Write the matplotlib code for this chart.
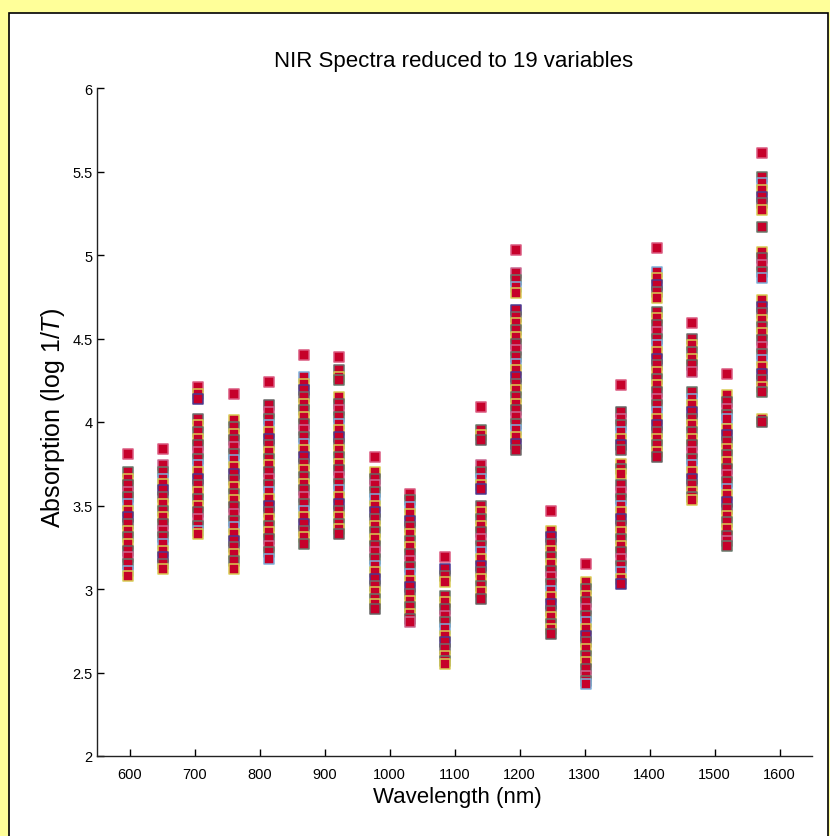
import matplotlib
matplotlib.use("Agg")
import matplotlib.pyplot as plt
from matplotlib.patches import Rectangle

plt.rcParams['font.family'] = ['Liberation Sans', 'DejaVu Sans']
plt.rcParams['mathtext.fontset'] = 'custom'
plt.rcParams['mathtext.rm'] = 'Liberation Sans'
plt.rcParams['mathtext.it'] = 'Liberation Sans:italic'

# wavelengths of the 19 variables (nm)
wavelengths = [598, 652, 706, 760, 814, 869, 923, 977, 1031, 1085,
               1140, 1194, 1248, 1302, 1356, 1411, 1465, 1519, 1573]

# absorption values seen at each wavelength (top to bottom)
a598 = [3.81, 3.70, 3.66, 3.62, 3.58, 3.55, 3.51, 3.47, 3.43, 3.39, 3.35, 3.31,
        3.27, 3.23, 3.19, 3.15, 3.11, 3.08]
a652 = [3.84, 3.74, 3.70, 3.66, 3.63, 3.59, 3.55, 3.51, 3.47, 3.43, 3.39, 3.35,
        3.31, 3.27, 3.23, 3.19, 3.15, 3.12]
a706 = [4.21, 4.17, 4.14, 4.02, 3.98, 3.94, 3.90, 3.86, 3.82, 3.78, 3.74, 3.70,
        3.66, 3.62, 3.58, 3.54, 3.50, 3.46, 3.42, 3.38, 3.35, 3.33]
a760 = [4.17, 4.01, 3.97, 3.93, 3.89, 3.85, 3.81, 3.77, 3.73, 3.69, 3.65, 3.61,
        3.57, 3.53, 3.49, 3.45, 3.41, 3.37, 3.33, 3.29, 3.25, 3.21, 3.17, 3.12]
a814 = [4.24, 4.10, 4.06, 4.02, 3.98, 3.94, 3.90, 3.86, 3.82, 3.78, 3.74, 3.70,
        3.66, 3.62, 3.58, 3.54, 3.50, 3.46, 3.42, 3.38, 3.34, 3.30, 3.26, 3.22, 3.18]
a869 = [4.40, 4.27, 4.23, 4.19, 4.15, 4.11, 4.07, 4.03, 3.99, 3.95, 3.91, 3.87,
        3.83, 3.79, 3.75, 3.71, 3.67, 3.63, 3.59, 3.55, 3.51, 3.47, 3.43, 3.39,
        3.35, 3.31, 3.27]
a923 = [4.39, 4.31, 4.27, 4.25, 4.15, 4.11, 4.07, 4.03, 3.99, 3.95, 3.91, 3.87,
        3.83, 3.79, 3.75, 3.71, 3.67, 3.63, 3.59, 3.55, 3.51, 3.47, 3.43, 3.39,
        3.36, 3.33]
a977 = [3.79, 3.70, 3.66, 3.62, 3.58, 3.54, 3.50, 3.46, 3.42, 3.38, 3.34, 3.30,
        3.26, 3.22, 3.18, 3.14, 3.10, 3.06, 3.02, 2.98, 2.94, 2.91, 2.88]
a1031 = [3.57, 3.53, 3.49, 3.45, 3.41, 3.37, 3.33, 3.29, 3.25, 3.21, 3.17, 3.13,
         3.09, 3.05, 3.01, 2.97, 2.93, 2.89, 2.85, 2.82, 2.80]
a1085 = [3.19, 3.12, 3.08, 3.04, 2.96, 2.92, 2.88, 2.84, 2.80, 2.76, 2.72, 2.68,
         2.64, 2.60, 2.57, 2.55]
a1140 = [4.09, 3.95, 3.92, 3.89, 3.74, 3.70, 3.66, 3.62, 3.60, 3.50, 3.46, 3.42,
         3.38, 3.34, 3.30, 3.26, 3.22, 3.18, 3.14, 3.10, 3.06, 3.02, 2.98, 2.94]
a1194 = [5.03, 4.89, 4.85, 4.81, 4.77, 4.67, 4.63, 4.59, 4.55, 4.51, 4.47, 4.43,
         4.39, 4.35, 4.31, 4.27, 4.23, 4.19, 4.15, 4.11, 4.07, 4.03, 3.99, 3.95,
         3.91, 3.87, 3.83]
a1248 = [3.47, 3.35, 3.31, 3.27, 3.23, 3.19, 3.15, 3.11, 3.07, 3.03, 2.99, 2.95,
         2.91, 2.87, 2.83, 2.79, 2.76, 2.73]
a1302 = [3.15, 3.04, 3.00, 2.96, 2.92, 2.88, 2.84, 2.80, 2.76, 2.72, 2.68, 2.64,
         2.60, 2.56, 2.52, 2.48, 2.45, 2.43]
a1356 = [4.22, 4.06, 4.02, 3.98, 3.94, 3.90, 3.86, 3.83, 3.75, 3.72, 3.69, 3.62,
         3.58, 3.54, 3.50, 3.46, 3.42, 3.38, 3.34, 3.30, 3.26, 3.22, 3.18, 3.14,
         3.10, 3.06, 3.03]
a1411 = [5.04, 4.90, 4.86, 4.82, 4.78, 4.74, 4.66, 4.62, 4.58, 4.54, 4.50, 4.46,
         4.42, 4.38, 4.34, 4.30, 4.26, 4.22, 4.18, 4.14, 4.10, 4.06, 4.02, 3.98,
         3.94, 3.90, 3.86, 3.82, 3.79]
a1465 = [4.59, 4.50, 4.46, 4.42, 4.38, 4.34, 4.30, 4.18, 4.14, 4.10, 4.06, 4.02,
         3.98, 3.94, 3.90, 3.86, 3.82, 3.78, 3.74, 3.70, 3.66, 3.62, 3.58, 3.55, 3.53]
a1519 = [4.29, 4.16, 4.12, 4.08, 4.04, 4.02, 3.96, 3.92, 3.88, 3.84, 3.80, 3.76,
         3.72, 3.68, 3.64, 3.60, 3.56, 3.52, 3.48, 3.44, 3.40, 3.36, 3.32, 3.29, 3.26]
a1573 = [5.61, 5.47, 5.43, 5.39, 5.35, 5.31, 5.27, 5.17, 5.02, 4.98, 4.94, 4.90,
         4.86, 4.73, 4.69, 4.65, 4.61, 4.57, 4.53, 4.49, 4.45, 4.41, 4.37, 4.33,
         4.29, 4.25, 4.21, 4.18, 4.02, 4.00]

columns = [a598, a652, a706, a760, a814, a869, a923, a977, a1031, a1085,
           a1140, a1194, a1248, a1302, a1356, a1411, a1465, a1519, a1573]

face_red = '#C6002A'
edge_cols = ['#D8CC55', '#687A6C', '#D8CC55', '#666666', '#C86A92',
             '#687A6C', '#7DB0DA', '#D8CC55', '#4A3C92', '#6E6E6E']

fig = plt.figure(figsize=(8.3, 8.37), dpi=100)
fig.patch.set_facecolor('#FFFF99')

# white panel with black frame, kept behind the axes
fig.patches.append(Rectangle((9 / 830, -0.01), 819 / 830, 1 - 13.5 / 837 + 0.01,
                             transform=fig.transFigure, facecolor='white',
                             edgecolor='black', linewidth=1.2, zorder=-5))

ax = fig.add_axes([97 / 830, 1 - 757 / 837, 715 / 830, 668 / 837])
ax.set_facecolor('none')
ax.set_zorder(2)

for i, (w, vals) in enumerate(zip(wavelengths, columns)):
    for j, v in enumerate(vals):
        if j == 0:
            ec = '#DA5A80'
        else:
            ec = edge_cols[(i * 3 + j) % len(edge_cols)]
        ax.scatter(w, v, marker='s', s=44, facecolor=face_red,
                   edgecolor=ec, linewidths=1.1, zorder=3, clip_on=False)

ax.set_xlim(550, 1650)
ax.set_ylim(2, 6)
ax.set_xticks(range(600, 1601, 100))
ax.set_yticks([2, 2.5, 3, 3.5, 4, 4.5, 5, 5.5, 6])
ax.set_yticklabels(['2', '2.5', '3', '3.5', '4', '4.5', '5', '5.5', '6'])
for s in ['top', 'right']:
    ax.spines[s].set_visible(False)
for s in ['left', 'bottom']:
    ax.spines[s].set_linewidth(1.0)
    ax.spines[s].set_color('#222222')
ax.tick_params(direction='in', length=5, width=1.0, labelsize=10.5)
ax.tick_params(axis='x', pad=8)
ax.tick_params(axis='y', pad=3)

fig.text(454 / 830, 1 - 62 / 837, 'NIR Spectra reduced to 19 variables',
         ha='center', va='center', fontsize=16)
fig.text(457 / 830, 1 - 798 / 837, 'Wavelength (nm)',
         ha='center', va='center', fontsize=16)
fig.text(53 / 830, 1 - 418 / 837, 'Absorption (log 1/$T$)',
         ha='center', va='center', rotation=90, fontsize=18)

fig.savefig('out.png', dpi=100, facecolor=fig.get_facecolor())
